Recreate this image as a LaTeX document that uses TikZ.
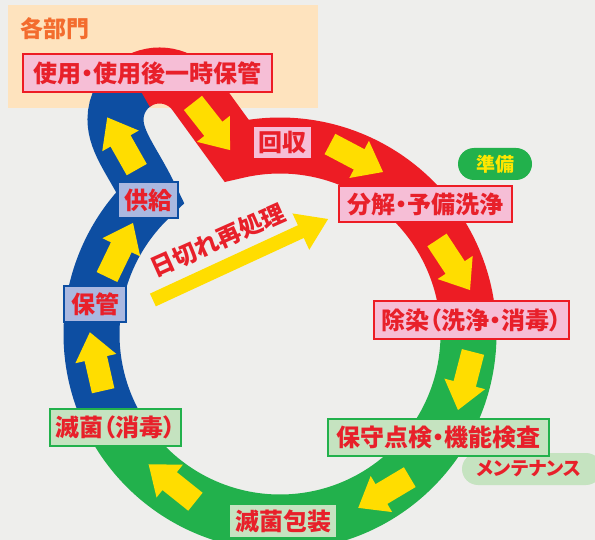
\documentclass[tikz,border=0pt]{standalone}
\usepackage{fontspec}
\newfontfamily\jp{Noto Sans CJK JP}[RawFeature={+palt}]
\definecolor{bgc}{HTML}{EEEEEC}
\definecolor{peach}{HTML}{FEE3BE}
\definecolor{bandred}{HTML}{ED1C24}
\definecolor{bandblue}{HTML}{0D4EA2}
\definecolor{bandgreen}{HTML}{22B14C}
\definecolor{arrowyellow}{HTML}{FFDD00}
\definecolor{pinkfill}{HTML}{F6BED6}
\definecolor{greenfill}{HTML}{C5E3C0}
\definecolor{bluefill}{HTML}{AAB8E0}
\definecolor{txtred}{HTML}{E8202A}
\definecolor{orangetxt}{HTML}{F36C2E}
\definecolor{junbiyellow}{HTML}{FFE600}
\tikzset{
  lbl/.style={font=\jp\bfseries\fontsize{24}{24}\selectfont, text=txtred, inner sep=0pt, line width=2.4pt},
  pinkbox/.style={lbl, draw=bandred, fill=pinkfill},
  greenbox/.style={lbl, draw=bandgreen, fill=greenfill},
  bluebox/.style={lbl, draw=bandblue, fill=bluefill},
  band/.style={line width=56pt, line join=miter},
  pics/barrow/.style={code={\fill[arrowyellow] (-30,-11.5) -- (3,-11.5) -- (3,-21) -- (30,0) -- (3,21) -- (3,11.5) -- (-30,11.5) -- cycle;}},
}
\begin{document}
\begin{tikzpicture}[x=1pt,y=-1pt]
\useasboundingbox (0,0) rectangle (595,540);
\clip (0,0) rectangle (595,540);
\fill[bgc] (0,0) rectangle (595,540);
% department area
\fill[peach] (8,5) rectangle (318,108);
\node[font=\jp\bfseries\fontsize{23}{23}\selectfont, text=orangetxt, anchor=west, inner sep=0pt] (dept) at (20,29) {各部門};
% band
\draw[band, bandgreen] (280,334) ++(-4:188.5) arc[start angle=-4, end angle=151, radius=188.5];
\draw[band, bandblue] (280,334) ++(150:188.5) arc[start angle=150, end angle=226.5, radius=188.5]
  .. controls (134,163) and (115.5,143) .. (115.5,119.5)
  arc[start angle=180, end angle=238, radius=44];
\draw[band, bandred] (159.5,119.5) ++(237.5:44) arc[start angle=237.5, end angle=324, radius=44]
  -- (236.5,150.6) arc[start angle=256.66, end angle=356.5, radius=188.5];
% band arrows
\pic[rotate=119.5] at (122,143.5) {barrow};
\pic[rotate=-51.8] at (211.5,126.5) {barrow};
\pic[rotate=-27.8] at (356.5,158) {barrow};
\pic[rotate=-56.6] at (453.5,265) {barrow};
\pic[rotate=-104.5] at (465.5,381) {barrow};
\pic[rotate=-149.2] at (384,492.5) {barrow};
\pic[rotate=141.3] at (172,483) {barrow};
\pic[rotate=102.8] at (96.5,361.5) {barrow};
\pic[rotate=64.3] at (120,250) {barrow};
% reprocess arrow
\begin{scope}[shift={(240.5,259.5)}, rotate=24.8]
\fill[arrowyellow] (-96.5,-7) -- (66.5,-7) -- (66.5,-20) -- (96.5,0) -- (66.5,20) -- (66.5,7) -- (-96.5,7) -- cycle;
\end{scope}
\node[font=\jp\bfseries\fontsize{24}{24}\selectfont, text=txtred, rotate=24, inner sep=0pt] (reproc) at (217.5,240.5) {日切れ再処理};
% pills
\node[fill=greenfill, rounded corners=16pt, minimum width=140pt, minimum height=32pt, inner sep=0pt] (mente) at (532,469) {};
\node[font=\jp\bfseries\fontsize{19}{19}\selectfont, text=txtred, inner sep=0pt] (mentetxt) at (529,469) {メンテナンス};
\node[fill=bandgreen, rounded corners=16pt, minimum width=74pt, minimum height=32pt, inner sep=0pt, text=junbiyellow, font=\jp\bfseries\fontsize{19}{19}\selectfont] (junbi) at (495,164) {準備};
% boxes
\node[pinkbox, minimum width=249pt, minimum height=38pt] (use) at (147.5,73) {使用・使用後一時保管};
\node[pinkbox, minimum width=59pt, minimum height=33pt] (kaishu) at (282.5,142.5) {回収};
\node[pinkbox, minimum width=173pt, minimum height=36pt] (bunkai) at (425.5,204) {分解・予備洗浄};
\node[pinkbox, minimum width=195pt, minimum height=38pt] (josen) at (471.5,320) {除染（洗浄・消毒）};
\node[greenbox, minimum width=221pt, minimum height=37pt] (hoshu) at (438.5,437.5) {保守点検・機能検査};
\node[greenbox, minimum width=108pt, minimum height=34pt] (housou) at (283,521) {滅菌包装};
\node[greenbox, minimum width=131pt, minimum height=37pt] (mekkin) at (115.5,427.5) {滅菌（消毒）};
\node[bluebox, minimum width=62pt, minimum height=36pt] (hokan) at (95,304) {保管};
\node[bluebox, minimum width=60pt, minimum height=36pt] (kyokyu) at (148,200) {供給};
\end{tikzpicture}
\end{document}
